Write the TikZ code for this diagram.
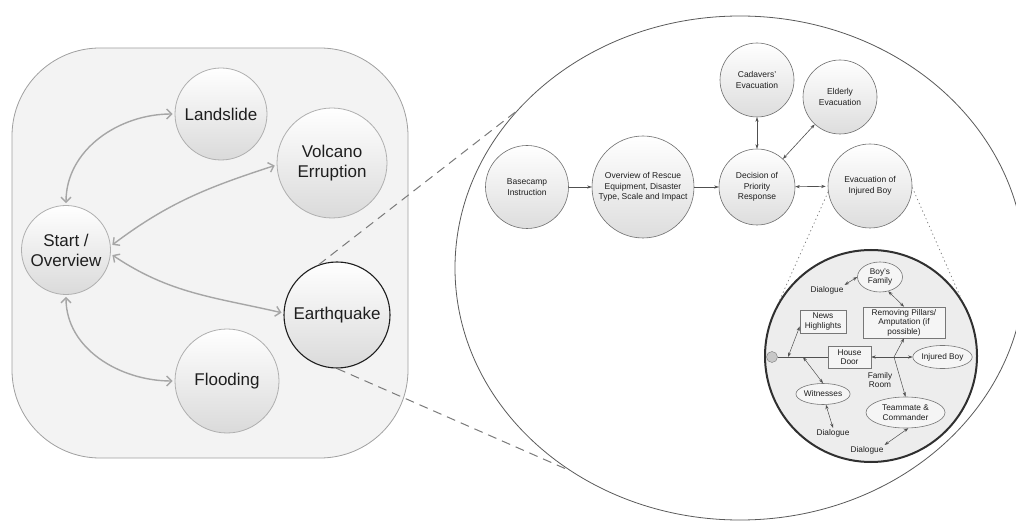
\documentclass[tikz,border=0pt]{standalone}
\usepackage{fontspec}
\setmainfont{Liberation Sans}
\usetikzlibrary{arrows.meta,shapes.geometric}
\definecolor{panelfill}{HTML}{F3F3F3}
\definecolor{panelline}{HTML}{A0A0A0}
\definecolor{lborder}{HTML}{AFAFAF}
\definecolor{lgrad}{HTML}{DADADA}
\definecolor{larrowc}{HTML}{A6A6A6}
\definecolor{textc}{HTML}{1E1E1E}
\definecolor{bigc}{HTML}{5A5A5A}
\definecolor{tborder}{HTML}{6E6E6E}
\definecolor{tgrad}{HTML}{DDDDDD}
\definecolor{tarrowc}{HTML}{505050}
\definecolor{dashc}{HTML}{7A7A7A}
\definecolor{innerfill}{HTML}{EDEDED}
\definecolor{innerline}{HTML}{303030}
\definecolor{iborder}{HTML}{777777}
\definecolor{ifill}{HTML}{F5F5F5}
\begin{document}
\begin{tikzpicture}[x=1pt,y=1pt,
  lcirc/.style={circle, draw=lborder, line width=0.8pt, top color=white, bottom color=lgrad,
    inner sep=0pt, align=center, text=textc, font=\fontsize{17}{20}\selectfont},
  eqline/.style={draw=textc, line width=1.1pt},
  larrow/.style={draw=larrowc, line width=1.4pt,
    {Straight Barb[length=5pt,width=10pt]}-{Straight Barb[length=5pt,width=10pt]},
    shorten <=2pt, shorten >=2pt},
  tcirc/.style={circle, draw=tborder, line width=0.6pt, top color=white, bottom color=tgrad,
    inner sep=0pt, align=center, text=textc, font=\fontsize{8.5}{10.5}\selectfont},
  tarrow/.style={draw=tarrowc, line width=0.6pt},
  dashedline/.style={draw=dashc, line width=1pt, dash pattern=on 9pt off 6pt},
  dottedline/.style={draw=iborder, line width=0.7pt, dash pattern=on 1.2pt off 3pt},
  ibox/.style={rectangle, draw=iborder, line width=0.6pt, fill=ifill, inner sep=0pt,
    align=center, text=textc, font=\fontsize{8.3}{9.6}\selectfont},
  iell/.style={ellipse, draw=iborder, line width=0.6pt, fill=ifill, inner sep=0pt,
    align=center, text=textc, font=\fontsize{8.3}{9.6}\selectfont},
  itext/.style={inner sep=1pt, align=center, text=textc, font=\fontsize{8.3}{9.6}\selectfont},
  iline/.style={draw=tarrowc, line width=0.5pt},
  >={Stealth[length=4.5pt,width=3.2pt]}
]
\useasboundingbox (0,0) rectangle (1016,522);
\clip (0,0) rectangle (1016,522);

% ---------- left panel ----------
\draw[draw=panelline, fill=panelfill, line width=0.8pt, rounded corners=88pt] (12,64) rectangle (408,474);

\node[lcirc, minimum size=89pt] (start) at (66,272) {Start /\\Overview};
\node[lcirc, minimum size=92pt] (land) at (221,408) {Landslide};
\node[lcirc, minimum size=110pt] (volc) at (332,359) {Volcano\\Erruption};
\node[lcirc, eqline, minimum size=106pt] (eq) at (337,207) {Earthquake};
\node[lcirc, minimum size=104pt] (flood) at (227,141) {Flooding};

\draw[larrow] (start.north) to[out=90,in=180] (land.west);
\draw[larrow] (start.5) to[out=37,in=198] (volc.182);
\draw[larrow] (start.-5) to[out=-34,in=167] (eq.178);
\draw[larrow] (start.south) to[out=-90,in=180] (flood.west);

% ---------- big ellipse ----------
\node[ellipse, draw=bigc, line width=0.8pt, fill=white, minimum width=570pt,
  minimum height=504pt, inner sep=0pt] (big) at (740,254) {};

\draw[dashedline] (eq.110) -- (big.145);
\draw[dashedline] (eq.270) -- (big.230);

% ---------- top row ----------
\node[tcirc, minimum size=83pt] (base) at (527,335) {Basecamp\\Instruction};
\node[tcirc, minimum size=102pt] (overview) at (643,335) {Overview of Rescue\\Equipment, Disaster\\Type, Scale and Impact};
\node[tcirc, minimum size=76pt] (decision) at (757,335) {Decision of\\Priority\\Response};
\node[tcirc, minimum size=84pt] (evac) at (870,336) {Evacuation of\\Injured Boy};
\node[tcirc, minimum size=74pt] (cadavers) at (757,442) {Cadavers'\\Evacuation};
\node[tcirc, minimum size=74pt] (elderly) at (840,425) {Elderly\\Evacuation};

\draw[tarrow,->] (base) -- (overview);
\draw[tarrow,->] (overview) -- (decision);
\draw[tarrow,<->, shorten >=2pt] (decision) -- (evac);
\draw[tarrow,<->] (decision) -- (cadavers);
\draw[tarrow,<->] (decision) -- (elderly);

% ---------- inner circle ----------
\node[circle, draw=innerline, line width=2pt, fill=innerfill, minimum size=212pt, inner sep=0pt] (inner) at (871,166) {};

\draw[dottedline] (evac.188) -- (inner.149);
\draw[dottedline] (evac.-2) -- (inner.33);

\node[circle, draw=iborder, fill=lgrad!80!gray, minimum size=11pt, inner sep=0pt] (dot) at (772,165) {};
\node[ibox, minimum width=43pt, minimum height=22pt] (door) at (849.5,165) {House\\Door};
\coordinate (J) at (894,165);
\coordinate (n1) at (788,165);
\coordinate (w1) at (803,165);
\node[iell, minimum width=46pt, minimum height=23pt] (injured) at (942.5,165) {Injured Boy};
\node[ibox, minimum width=82pt, minimum height=31pt] (pillars) at (904,199.5) {Removing Pillars/\\Amputation (if\\possible)};
\node[iell, minimum width=45pt, minimum height=30pt] (family) at (880,245) {Boy's\\Family};
\node[ibox, minimum width=46pt, minimum height=23pt] (news) at (823,200.5) {News\\Highlights};
\node[iell, minimum width=44pt, minimum height=21pt] (wit) at (823,128) {Witnesses};
\node[iell, minimum width=79pt, minimum height=31pt] (team) at (905.5,109.5) {Teammate \&\\Commander};
\node[itext] (dlg1) at (827,232) {Dialogue};
\node[itext] (dlg2) at (833,89) {Dialogue};
\node[itext] (dlg3) at (867,72) {Dialogue};
\node[itext] (room) at (880,142) {Family\\Room};

\draw[iline] (dot) -- (door);
\draw[iline,->] (J) -- (door);
\draw[iline,->] (J) -- (injured);
\draw[iline,->] (J) -- (pillars.south);
\draw[iline,->] (J) -- (team.north);
\draw[iline,<->] (family.-60) -- (pillars.north);
\draw[iline,<->] (dlg1.north east) -- (family.west);
\draw[iline,<->] (n1) -- (news.192);
\draw[iline,<->] (w1) -- (wit.north);
\draw[iline,<->] (wit.-75) -- (dlg2.north);
\draw[iline,<->] (team.-80) -- (dlg3.north east);
\end{tikzpicture}
\end{document}
